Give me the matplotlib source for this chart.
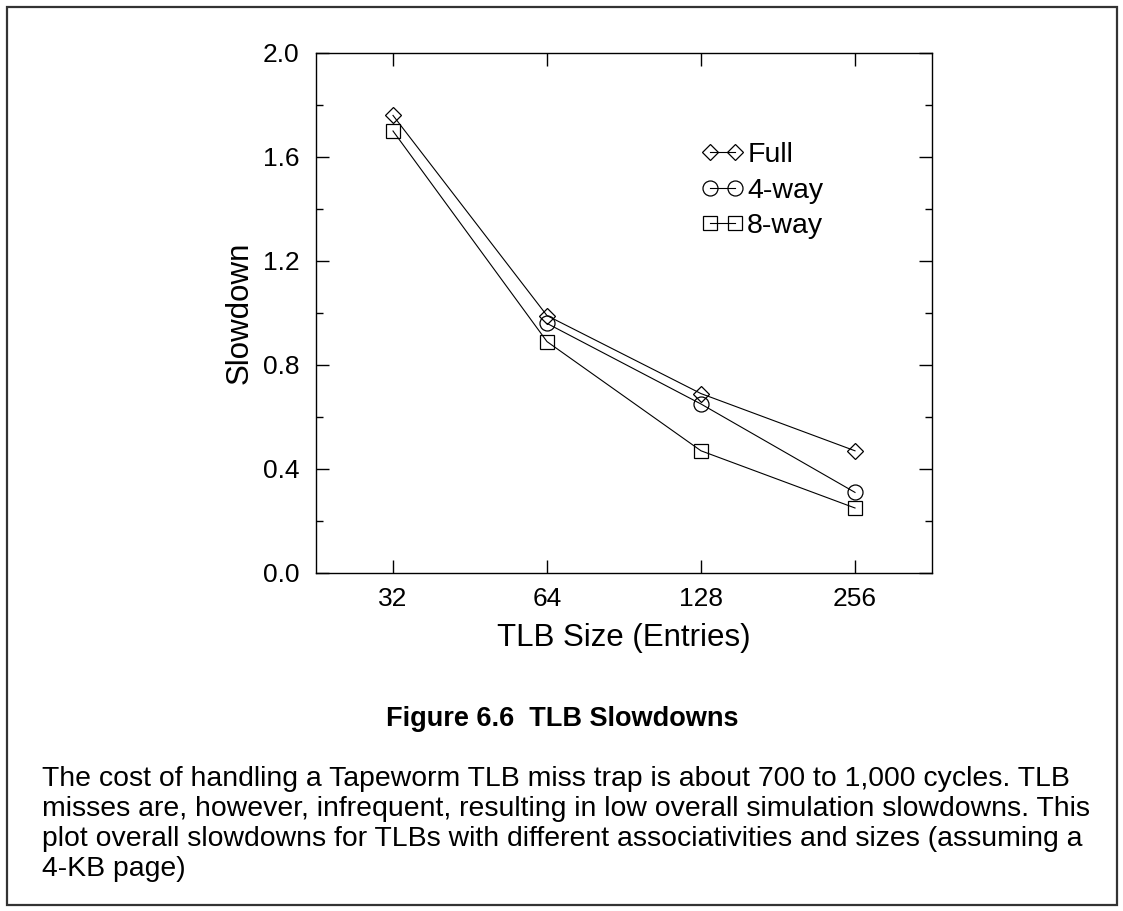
import matplotlib
matplotlib.use('Agg')
import matplotlib.pyplot as plt
import numpy as np
from matplotlib.patches import Rectangle
from matplotlib.ticker import MultipleLocator, FormatStrFormatter

plt.rcParams['font.family'] = ['Liberation Sans', 'DejaVu Sans']

sizes = ['32', '64', '128', '256']
full = [1.76, 0.99, 0.69, 0.47]
four_way = [np.nan, 0.96, 0.65, 0.31]
eight_way = [1.70, 0.89, 0.47, 0.25]
series_labels = ['Full', '4-way', '8-way']

title = 'Figure 6.6  TLB Slowdowns'
caption_lines = [
    'The cost of handling a Tapeworm TLB miss trap is about 700 to 1,000 cycles. TLB',
    'misses are, however, infrequent, resulting in low overall simulation slowdowns. This',
    'plot overall slowdowns for TLBs with different associativities and sizes (assuming a',
    '4-KB page)',
]

W, H = 1123, 911
fig = plt.figure(figsize=(W / 100, H / 100), dpi=100)


def fx(px):
    return px / W


def fy(py):
    return 1 - py / H


# outer frame
fig.patches.append(Rectangle((fx(7), fy(905)), fx(1117) - fx(7), fy(7) - fy(905),
                             transform=fig.transFigure, fill=False,
                             edgecolor='#333333', linewidth=1.6))

ax = fig.add_axes([fx(316), fy(573), fx(932) - fx(316), fy(53) - fy(573)])
x = np.arange(len(sizes))
common = dict(color='black', lw=0.8, mfc='none', mec='black', mew=0.9)
ax.plot(x, full, marker='D', ms=8.0, label=series_labels[0], **common)
ax.plot(x, four_way, marker='o', ms=10.8, label=series_labels[1], **common)
ax.plot(x, eight_way, marker='s', ms=9.4, label=series_labels[2], **common)

ax.set_xlim(-0.5, 3.5)
ax.set_ylim(0, 2.0)
ax.set_xticks(x)
ax.set_xticklabels(sizes)
ax.yaxis.set_major_locator(MultipleLocator(0.4))
ax.yaxis.set_minor_locator(MultipleLocator(0.2))
ax.yaxis.set_major_formatter(FormatStrFormatter('%.1f'))
ax.tick_params(axis='both', which='both', direction='in', top=True, right=True,
               width=1.0, labelsize=19)
ax.tick_params(axis='x', which='major', length=9.5, pad=10)
ax.tick_params(axis='y', which='major', length=9.5, pad=12)
ax.tick_params(axis='y', which='minor', length=5)
for s in ax.spines.values():
    s.set_linewidth(1.0)

ax.set_xlabel('TLB Size (Entries)', fontsize=22.5, labelpad=9)
ax.set_ylabel('Slowdown', fontsize=22.5, labelpad=6)

ax.legend(loc='upper left', bbox_to_anchor=(0.625, 0.828), frameon=False,
          numpoints=2, fontsize=20.5, handlelength=1.5, handletextpad=0.12,
          labelspacing=0.33, borderpad=0, borderaxespad=0)

fig.text(fx(562), fy(719), title, ha='center', va='center', fontsize=19.5,
         fontweight='bold')
for i, line in enumerate(caption_lines):
    fig.text(fx(42), fy(786 + 30 * i), line, ha='left', va='baseline',
             fontsize=20.4)

fig.savefig('out.png', dpi=100)
